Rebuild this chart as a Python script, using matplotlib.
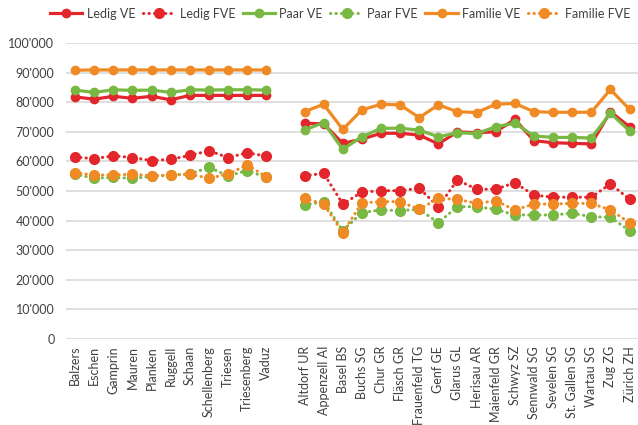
"""
Vergleich VE / FVE nach Gemeinde (Liechtenstein und Schweiz)
"""

import matplotlib
matplotlib.use("Agg")
import matplotlib.pyplot as plt
from matplotlib.ticker import FuncFormatter

# Gemeinden Liechtenstein
gemeinden_li = ["Balzers", "Eschen", "Gamprin", "Mauren", "Planken", "Ruggell",
                "Schaan", "Schellenberg", "Triesen", "Triesenberg", "Vaduz"]
# Gemeinden Schweiz
gemeinden_ch = ["Altdorf UR", "Appenzell AI", "Basel BS", "Buchs SG", "Chur GR",
                "Fläsch GR", "Frauenfeld TG", "Genf GE", "Glarus GL", "Herisau AR",
                "Maienfeld GR", "Schwyz SZ", "Sennwald SG", "Sevelen SG",
                "St. Gallen SG", "Wartau SG", "Zug ZG", "Zürich ZH"]

# Werte Liechtenstein
ledig_ve_li = [81800, 81000, 82000, 81300, 82000, 80800, 82300, 82300, 82300, 82300, 82300]
ledig_fve_li = [61500, 60900, 61900, 61300, 60300, 60700, 62000, 63600, 61300, 62900, 61800]
paar_ve_li = [84100, 83300, 84200, 84000, 84100, 83300, 84200, 84100, 84200, 84200, 84100]
paar_fve_li = [55700, 54300, 54600, 54300, 54900, 55400, 55700, 58000, 55100, 56900, 54600]
familie_ve_li = [90800, 90900, 90900, 90900, 90900, 90900, 90900, 90900, 90900, 90900, 90900]
familie_fve_li = [56200, 55400, 55400, 55700, 55100, 55400, 55700, 54300, 55700, 58800, 54800]

# Werte Schweiz
ledig_ve_ch = [72900, 72700, 66100, 67500, 69500, 69500, 68900, 65900, 70000,
               69700, 70000, 74200, 67000, 66300, 66100, 65900, 76800, 71700]
ledig_fve_ch = [55100, 56000, 45600, 49600, 50100, 50100, 50900, 44700, 53700,
                50600, 50600, 52800, 48600, 47900, 47900, 47900, 52400, 47200]
paar_ve_ch = [70600, 73100, 64100, 68300, 71200, 71200, 70600, 68300, 69700,
              69400, 71700, 72900, 68600, 68100, 68100, 67900, 76300, 70300]
paar_fve_ch = [45300, 46400, 36600, 42700, 43600, 43400, 43800, 39300, 44700,
               44700, 43800, 41900, 41900, 41900, 42500, 41300, 41100, 36600]
familie_ve_ch = [76800, 79300, 70800, 77400, 79300, 79100, 74800, 79100, 76800,
                 76500, 79300, 79600, 76800, 76600, 76600, 76600, 84300, 77600]
familie_fve_ch = [47500, 45600, 35900, 46000, 46400, 46400, 43800, 47500, 47200,
                  45800, 46700, 43600, 45600, 45600, 45800, 45800, 43600, 39300]

ROT = "#E2262B"
GRUEN = "#78B843"
ORANGE = "#F08A24"

plt.rcParams["font.family"] = ["Lato", "DejaVu Sans"]

fig = plt.figure(figsize=(6.38, 4.25), dpi=100)
ax = fig.add_axes([0.1027, 0.2024, 0.899, 0.6964])

# x-Positionen: eine leere Kategorie zwischen den beiden Gruppen
x_li = list(range(len(gemeinden_li)))
x_ch = [len(gemeinden_li) + 1 + i for i in range(len(gemeinden_ch))]

serien = [
    ("Ledig VE", ledig_ve_li, ledig_ve_ch, ROT, "-"),
    ("Ledig FVE", ledig_fve_li, ledig_fve_ch, ROT, ":"),
    ("Paar VE", paar_ve_li, paar_ve_ch, GRUEN, "-"),
    ("Paar FVE", paar_fve_li, paar_fve_ch, GRUEN, ":"),
    ("Familie VE", familie_ve_li, familie_ve_ch, ORANGE, "-"),
    ("Familie FVE", familie_fve_li, familie_fve_ch, ORANGE, ":"),
]

for name, werte_li, werte_ch, farbe, stil in serien:
    if stil == "-":
        kw = dict(color=farbe, linestyle="-", linewidth=2.3, marker="o", markersize=6)
    else:
        # runde Punkte statt Striche
        kw = dict(color=farbe, linestyle=(0, (0.1, 1.7)), linewidth=2.2, marker="o",
                  markersize=7, dash_capstyle="round")
    ax.plot(x_li, werte_li, label=name, **kw)
    ax.plot(x_ch, werte_ch, **kw)

# Achsen
ax.set_xlim(-0.5, len(gemeinden_li) + len(gemeinden_ch) + 0.5)
ax.set_ylim(0, 100000)
ax.set_yticks(range(0, 100001, 10000))
ax.yaxis.set_major_formatter(FuncFormatter(lambda v, p: f"{int(v):,}".replace(",", "'")))
ax.grid(axis="y", color="#D9D9D9", linewidth=1.2)
ax.set_axisbelow(True)

ax.set_xticks(x_li + x_ch)
ax.set_xticklabels(gemeinden_li + gemeinden_ch, rotation=90)
ax.tick_params(axis="both", length=0, labelsize=9, colors="#404040")
ax.tick_params(axis="y", pad=8)
ax.tick_params(axis="x", pad=5)
for s in ax.spines.values():
    s.set_visible(False)

fig.legend(loc="center", bbox_to_anchor=(0.533, 0.968), ncol=6, frameon=False,
           fontsize=9, handlelength=2.6, handletextpad=0.35, columnspacing=0.6,
           labelcolor="#404040")

fig.savefig("out.png", dpi=100)
